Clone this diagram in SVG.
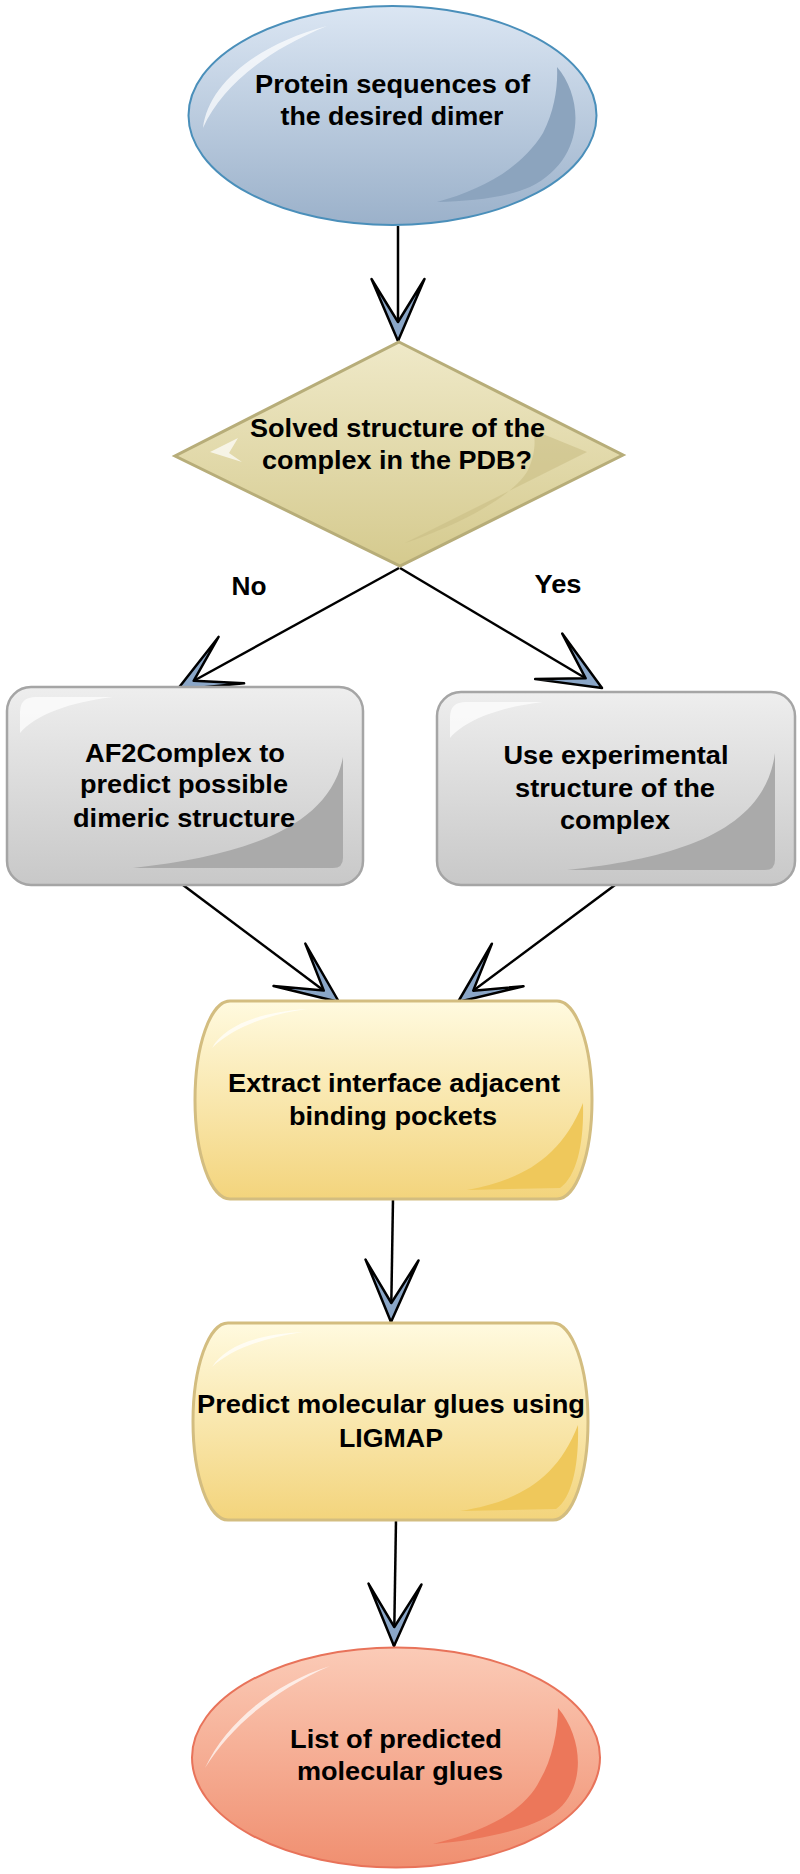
<svg xmlns="http://www.w3.org/2000/svg" width="800" height="1874" viewBox="0 0 800 1874">
<defs>
<style>
.t{font-family:"Liberation Sans",Arial,sans-serif;font-weight:bold;font-size:26px;fill:#000;text-anchor:middle}
.conn{stroke:#000;stroke-width:2.5;fill:none;marker-end:url(#arr)}
.hl{fill:#fff;opacity:.7}
</style>
<linearGradient id="gBlue" x1="0" y1="0" x2="0" y2="1"><stop offset="0" stop-color="#dbe6f3"/><stop offset="1" stop-color="#9bb1ca"/></linearGradient>
<linearGradient id="gTan" x1="0" y1="0" x2="0" y2="1"><stop offset="0" stop-color="#efe9c8"/><stop offset="1" stop-color="#d5ca8e"/></linearGradient>
<linearGradient id="gGray" x1="0" y1="0" x2="0" y2="1"><stop offset="0" stop-color="#eeeeee"/><stop offset="1" stop-color="#c8c8c8"/></linearGradient>
<linearGradient id="gYel" x1="0" y1="0" x2="0" y2="1"><stop offset="0" stop-color="#fffadf"/><stop offset="1" stop-color="#f3d47c"/></linearGradient>
<linearGradient id="gRed" x1="0" y1="0" x2="0" y2="1"><stop offset="0" stop-color="#fbcbb7"/><stop offset="1" stop-color="#f08f70"/></linearGradient>
<marker id="arr" markerUnits="userSpaceOnUse" markerWidth="80" markerHeight="70" viewBox="-70 -35 80 70" refX="0" refY="0" orient="auto">
<path d="M0,0 L-62,-26.5 L-19,0 L-62,26.5 Z" fill="#8aa6c7" stroke="#000" stroke-width="2.5" stroke-linejoin="round"/>
</marker>
</defs>

<g id="connectors">
<line class="conn" x1="398" y1="226" x2="398" y2="341"/>
<line class="conn" x1="399" y1="568" x2="177" y2="690"/>
<line class="conn" x1="400" y1="568" x2="602" y2="688"/>
<line class="conn" x1="183" y1="885" x2="339" y2="1002"/>
<line class="conn" x1="615" y1="885" x2="458" y2="1002"/>
<line class="conn" x1="393" y1="1199" x2="391" y2="1322"/>
<line class="conn" x1="396" y1="1520" x2="394" y2="1646"/>
</g>

<g id="start">
<ellipse cx="392.5" cy="115.5" rx="204" ry="109.5" fill="url(#gBlue)" stroke="#4a8fba" stroke-width="2"/>
<path d="M557,67 C585,100 585,160 530,187 C505,198 470,201 437,202 C480,190 520,170 543,133 C555,110 558,85 557,67 Z" fill="#8ca4be"/>
<path class="hl" d="M203,128 C208,85 255,45 327,26 C268,50 222,85 203,128 Z"/>
<text class="t" x="392.5" y="92.5" textLength="275" lengthAdjust="spacingAndGlyphs">Protein sequences of</text>
<text class="t" x="392" y="125" textLength="223" lengthAdjust="spacingAndGlyphs">the desired dimer</text>
</g>

<g id="decision">
<polygon points="399,342 623,455 400,566 175,456" fill="url(#gTan)" stroke="#b7ad79" stroke-width="3" stroke-linejoin="miter"/>
<path d="M533,430 L587,452 L405,543 C460,525 515,495 528,470 C535,455 536,440 533,430 Z" fill="#c9be85" opacity=".6"/>
<polygon class="hl" points="210,452 238,438 229,453 242,462"/>
<text class="t" x="397.5" y="437" textLength="295" lengthAdjust="spacingAndGlyphs">Solved structure of the</text>
<text class="t" x="397" y="469" textLength="270" lengthAdjust="spacingAndGlyphs">complex in the PDB?</text>
</g>

<g id="label-no"><text class="t" x="249" y="595" textLength="35" lengthAdjust="spacingAndGlyphs">No</text></g>
<g id="label-yes"><text class="t" x="558" y="593" textLength="47" lengthAdjust="spacingAndGlyphs">Yes</text></g>

<g id="af2complex">
<rect x="7" y="687" width="356" height="198" rx="24" fill="url(#gGray)" stroke="#a5a5a5" stroke-width="2.5"/>
<path d="M343,757 L343,858 Q343,868 333,868 L133,868 C250,855 330,825 343,757 Z" fill="#aaaaaa"/>
<path class="hl" d="M20,733 L20,712 Q20,697 36,697 L113,697 C70,702 35,715 20,733 Z"/>
<text class="t" x="185" y="762" textLength="200" lengthAdjust="spacingAndGlyphs">AF2Complex to</text>
<text class="t" x="184" y="793" textLength="208" lengthAdjust="spacingAndGlyphs">predict possible</text>
<text class="t" x="184" y="827" textLength="222" lengthAdjust="spacingAndGlyphs">dimeric structure</text>
</g>

<g id="experimental">
<rect x="437" y="692" width="358" height="193" rx="24" fill="url(#gGray)" stroke="#a5a5a5" stroke-width="2.5"/>
<path d="M775,753 L775,860 Q775,870 765,870 L567,870 C680,858 765,830 775,753 Z" fill="#aaaaaa"/>
<path class="hl" d="M450,738 L450,717 Q450,702 466,702 L543,702 C500,707 465,720 450,738 Z"/>
<text class="t" x="616" y="764" textLength="225" lengthAdjust="spacingAndGlyphs">Use experimental</text>
<text class="t" x="615" y="797" textLength="200" lengthAdjust="spacingAndGlyphs">structure of the</text>
<text class="t" x="615" y="829" textLength="110" lengthAdjust="spacingAndGlyphs">complex</text>
</g>

<g id="extract">
<path d="M230,1001 L557,1001 A35,99 0 0 1 557,1199 L230,1199 A35,99 0 0 1 230,1001 Z" fill="url(#gYel)" stroke="#d3bd80" stroke-width="3"/>
<path d="M583,1103 C584,1140 578,1175 560,1188 L467,1190 C520,1180 560,1160 583,1103 Z" fill="#efc85b"/>
<path class="hl" d="M212,1048 C225,1025 260,1012 307,1009 C265,1015 232,1028 212,1048 Z"/>
<text class="t" x="394" y="1092" textLength="332" lengthAdjust="spacingAndGlyphs">Extract interface adjacent</text>
<text class="t" x="393" y="1125" textLength="208" lengthAdjust="spacingAndGlyphs">binding pockets</text>
</g>

<g id="predict">
<path d="M228,1323 L553,1323 A35,98.5 0 0 1 553,1520 L228,1520 A35,98.5 0 0 1 228,1323 Z" fill="url(#gYel)" stroke="#d3bd80" stroke-width="3"/>
<path d="M578,1425 C579,1462 573,1497 556,1509 L460,1511 C515,1502 556,1482 578,1425 Z" fill="#efc85b"/>
<path class="hl" d="M212,1367 C225,1346 258,1334 303,1332 C262,1338 230,1350 212,1367 Z"/>
<text class="t" x="391" y="1413" textLength="388" lengthAdjust="spacingAndGlyphs">Predict molecular glues using</text>
<text class="t" x="391" y="1447" textLength="104" lengthAdjust="spacingAndGlyphs">LIGMAP</text>
</g>

<g id="end">
<ellipse cx="396" cy="1757.5" rx="204" ry="110" fill="url(#gRed)" stroke="#e8735a" stroke-width="2"/>
<path d="M558,1708 C585,1740 585,1790 555,1812 C530,1830 480,1840 433,1844 C490,1830 525,1810 540,1780 C552,1760 558,1730 558,1708 Z" fill="#ec775a"/>
<path class="hl" d="M205,1768 C225,1725 270,1685 330,1666 C275,1690 232,1725 205,1768 Z"/>
<text class="t" x="396" y="1748" textLength="212" lengthAdjust="spacingAndGlyphs">List of predicted</text>
<text class="t" x="400" y="1780" textLength="206" lengthAdjust="spacingAndGlyphs">molecular glues</text>
</g>
</svg>
